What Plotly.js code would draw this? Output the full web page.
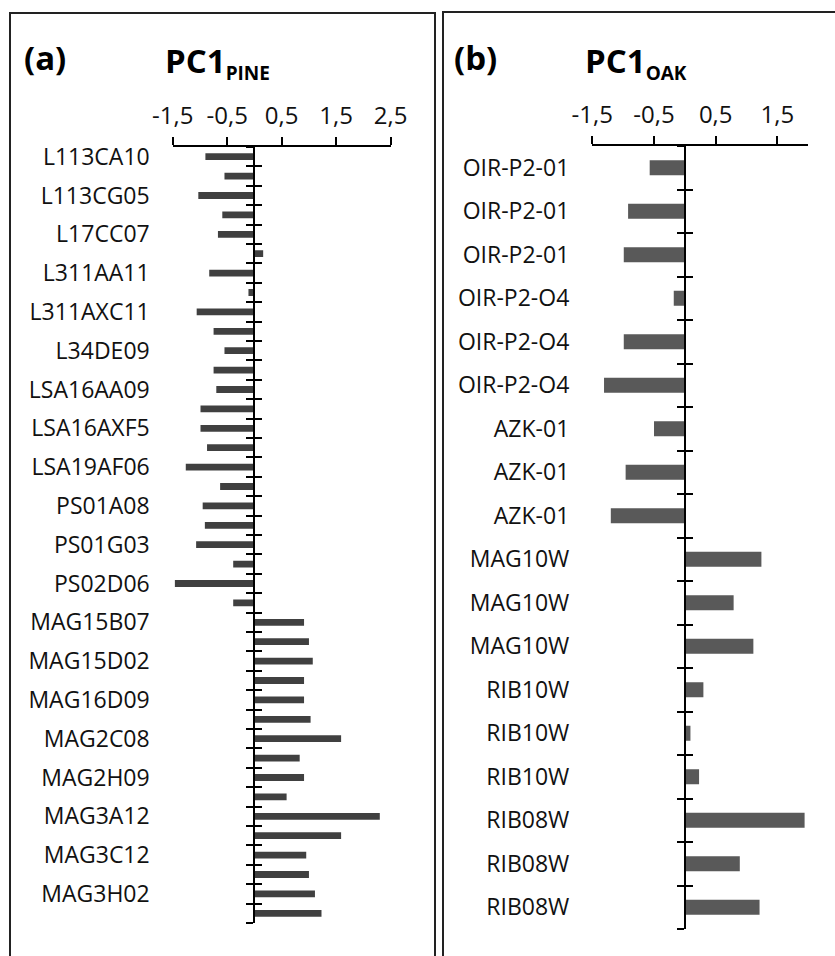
<!DOCTYPE html>
<html>
<head>
<meta charset="utf-8">
<script src="https://cdn.plot.ly/plotly-3.0.1.min.js"></script>
<style>html,body{margin:0;padding:0;background:#fff;}#chart{width:835px;height:956px;}</style>
</head>
<body>
<div id="chart"></div>
<script>
// ---- data ----
const pineLabels = ["L113CA10","L113CG05","L17CC07","L311AA11","L311AXC11","L34DE09","LSA16AA09","LSA16AXF5","LSA19AF06","PS01A08","PS01G03","PS02D06","MAG15B07","MAG15D02","MAG16D09","MAG2C08","MAG2H09","MAG3A12","MAG3C12","MAG3H02"];
const pineValues = [-0.90,-0.55,-1.03,-0.59,-0.67,0.16,-0.83,-0.11,-1.06,-0.75,-0.55,-0.75,-0.70,-0.99,-0.99,-0.87,-1.26,-0.63,-0.95,-0.91,-1.07,-0.39,-1.46,-0.39,0.91,1.00,1.07,0.91,0.91,1.03,1.59,0.83,0.91,0.59,2.30,1.59,0.95,1.00,1.11,1.23];
const pineTickVals = [-1.5,-0.5,0.5,1.5,2.5];
const pineTickText = ["-1,5","-0,5","0,5","1,5","2,5"];

const oakLabels = ["OIR-P2-01","OIR-P2-01","OIR-P2-01","OIR-P2-O4","OIR-P2-O4","OIR-P2-O4","AZK-01","AZK-01","AZK-01","MAG10W","MAG10W","MAG10W","RIB10W","RIB10W","RIB10W","RIB08W","RIB08W","RIB08W"];
const oakValues = [-0.57,-0.92,-0.99,-0.18,-0.99,-1.31,-0.50,-0.96,-1.20,1.24,0.79,1.11,0.30,0.09,0.23,1.94,0.89,1.21];
const oakTickVals = [-1.5,-0.5,0.5,1.5];
const oakTickText = ["-1,5","-0,5","0,5","1,5"];

// ---- layout helpers ----
const W = 835, H = 956;
const px = v => v / W;
const py = v => 1 - v / H;

const pineIdx = pineValues.map((_, i) => i);
const pineLabelPos = pineLabels.map((_, i) => 2 * i);
const pineBounds = pineValues.map((_, i) => i - 0.5).concat([pineValues.length - 0.5]);
const oakIdx = oakValues.map((_, i) => i);
const oakBounds = oakValues.map((_, i) => i - 0.5).concat([oakValues.length - 0.5]);

const pineXRange = [-1.5, 2.5];
const oakXRange = [-1.5, 2.0];
const pineXDom = [px(172.7), px(390.7)];
const oakXDom = [px(592.3), px(808.3)];
const pineYDom = [py(923), py(147)];
const oakYDom = [py(929), py(146)];
const zeroPos = (dom, rng) => dom[0] + (0 - rng[0]) / (rng[1] - rng[0]) * (dom[1] - dom[0]);

const FONT = "Open Sans, Noto Sans, sans-serif";
const labelFont = {family: FONT, size: 23, color: "#111"};
const xTickFont = {family: FONT, size: 24, color: "#111"};

const traces = [
  {type: "bar", orientation: "h", x: pineValues, y: pineIdx, xaxis: "x", yaxis: "y",
   marker: {color: "#404040"}, hoverinfo: "skip", showlegend: false},
  {type: "bar", orientation: "h", x: oakValues, y: oakIdx, xaxis: "x2", yaxis: "y2",
   marker: {color: "#595959"}, hoverinfo: "skip", showlegend: false},
  // invisible helpers so the crossing-tick axes are drawn
  {type: "scatter", mode: "markers", x: pineValues, y: pineIdx, xaxis: "x", yaxis: "y3", marker: {opacity: 0}, hoverinfo: "skip", showlegend: false},
  {type: "scatter", mode: "markers", x: pineValues, y: pineIdx, xaxis: "x", yaxis: "y5", marker: {opacity: 0}, hoverinfo: "skip", showlegend: false},
  {type: "scatter", mode: "markers", x: oakValues, y: oakIdx, xaxis: "x2", yaxis: "y4", marker: {opacity: 0}, hoverinfo: "skip", showlegend: false},
  {type: "scatter", mode: "markers", x: oakValues, y: oakIdx, xaxis: "x2", yaxis: "y6", marker: {opacity: 0}, hoverinfo: "skip", showlegend: false}
];

const xAxisCommon = {side: "top", showline: true, linecolor: "#000", linewidth: 2, ticks: "outside",
  ticklen: 8, tickwidth: 2, tickcolor: "#000", showgrid: false, zeroline: false, fixedrange: true,
  tickfont: xTickFont, ticklabelstandoff: 3};
const labelAxisCommon = {showline: false, ticks: "", showgrid: false, zeroline: false, fixedrange: true,
  tickfont: labelFont, ticklabelstandoff: 22, tickmode: "array"};
const crossAxis = (over, dom, pos, rng, vals, dir) => ({overlaying: over, anchor: "free", position: pos,
  domain: dom, range: rng, showline: true, linecolor: "#000", linewidth: 2, ticks: dir, ticklen: 7,
  tickwidth: 2, tickcolor: "#000", tickmode: "array", tickvals: vals, showticklabels: false,
  showgrid: false, zeroline: false, fixedrange: true});

const pineYRange = [pineValues.length - 0.5, -0.5];
const oakYRange = [oakValues.length - 0.5, -0.5];
const pineZero = zeroPos(pineXDom, pineXRange);
const oakZero = zeroPos(oakXDom, oakXRange);

const layout = {
  width: W, height: H,
  margin: {l: 0, r: 0, t: 0, b: 0},
  paper_bgcolor: "#fff", plot_bgcolor: "rgba(0,0,0,0)",
  bargap: 0.65,
  showlegend: false,
  font: {family: FONT, color: "#111"},
  xaxis: Object.assign({}, xAxisCommon, {domain: pineXDom, range: pineXRange, anchor: "y",
    tickmode: "array", tickvals: pineTickVals, ticktext: pineTickText}),
  xaxis2: Object.assign({}, xAxisCommon, {domain: oakXDom, range: oakXRange, anchor: "y2",
    tickmode: "array", tickvals: oakTickVals, ticktext: oakTickText}),
  yaxis: Object.assign({}, labelAxisCommon, {domain: pineYDom, range: pineYRange, anchor: "x",
    tickvals: pineLabelPos, ticktext: pineLabels}),
  yaxis2: Object.assign({}, labelAxisCommon, {domain: oakYDom, range: oakYRange, anchor: "x2",
    tickvals: oakIdx, ticktext: oakLabels}),
  yaxis3: crossAxis("y", pineYDom, pineZero, pineYRange, pineBounds, "outside"),
  yaxis5: crossAxis("y", pineYDom, pineZero, pineYRange, pineBounds, "inside"),
  yaxis4: crossAxis("y2", oakYDom, oakZero, oakYRange, oakBounds, "outside"),
  yaxis6: crossAxis("y2", oakYDom, oakZero, oakYRange, oakBounds, "inside"),
  shapes: [
    {type: "rect", xref: "paper", yref: "paper", x0: px(10), x1: px(435), y0: -0.05, y1: py(13),
     line: {color: "#222", width: 2}, fillcolor: "rgba(0,0,0,0)", layer: "below"},
    {type: "rect", xref: "paper", yref: "paper", x0: px(443), x1: 1.05, y0: -0.05, y1: py(12),
     line: {color: "#222", width: 2}, fillcolor: "rgba(0,0,0,0)", layer: "below"}
  ],
  annotations: [
    {xref: "paper", yref: "paper", x: px(22), y: py(57), xanchor: "left", yanchor: "middle", showarrow: false,
     text: "<b>(a)</b>", font: {family: FONT, size: 33, color: "#000"}},
    {xref: "paper", yref: "paper", x: px(163), y: py(62), xanchor: "left", yanchor: "middle", showarrow: false,
     text: "<b>PC1<sub><span style='font-size:19px'>PINE</span></sub></b>", font: {family: FONT, size: 33, color: "#000"}},
    {xref: "paper", yref: "paper", x: px(452), y: py(57), xanchor: "left", yanchor: "middle", showarrow: false,
     text: "<b>(b)</b>", font: {family: FONT, size: 33, color: "#000"}},
    {xref: "paper", yref: "paper", x: px(583), y: py(62), xanchor: "left", yanchor: "middle", showarrow: false,
     text: "<b>PC1<sub><span style='font-size:19px'>OAK</span></sub></b>", font: {family: FONT, size: 33, color: "#000"}}
  ]
};

Plotly.newPlot("chart", traces, layout, {staticPlot: true, displayModeBar: false});
</script>
</body>
</html>
